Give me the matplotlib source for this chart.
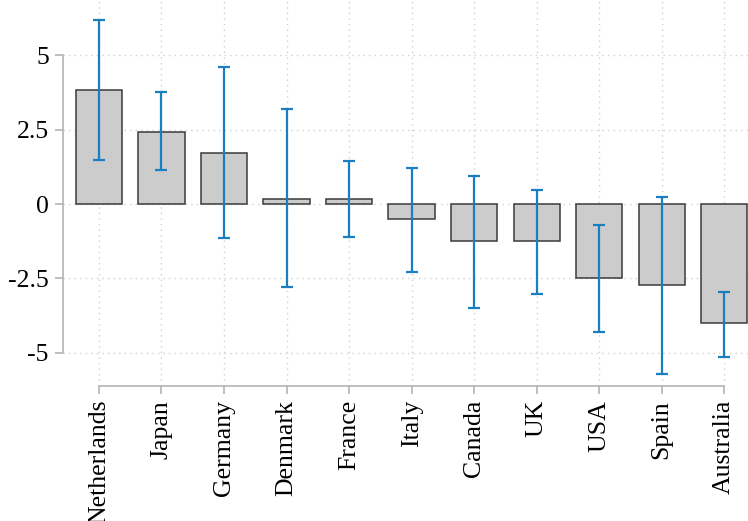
import matplotlib
matplotlib.use("Agg")
import matplotlib.pyplot as plt
import numpy as np

countries = ["Netherlands", "Japan", "Germany", "Denmark", "France", "Italy",
             "Canada", "UK", "USA", "Spain", "Australia"]
estimate = [3.82, 2.43, 1.71, 0.18, 0.16, -0.51, -1.25, -1.24, -2.48, -2.71, -4.00]
ci_low = [1.48, 1.14, -1.13, -2.80, -1.10, -2.27, -3.50, -3.02, -4.30, -5.70, -5.12]
ci_high = [6.17, 3.76, 4.60, 3.19, 1.44, 1.20, 0.95, 0.47, -0.70, 0.23, -2.95]
yticks = [-5, -2.5, 0, 2.5, 5]
ytick_labels = ["-5", "-2.5", "0", "2.5", "5"]

plt.rcParams["font.family"] = ["Liberation Serif", "DejaVu Serif"]

AXIS_GREY = "#b4b4b4"
GRID_GREY = "#d0d0d0"
BLUE = "#1a7fc1"

fig = plt.figure(figsize=(7.48, 5.21), dpi=100)
ax = fig.add_axes([62.7 / 748, (521 - 386) / 521, 1 - 62.7 / 748, 386 / 521])

x = np.arange(len(countries))
est = np.array(estimate)
yerr = np.vstack([est - np.array(ci_low), np.array(ci_high) - est])

ax.bar(x, est, width=0.74, color="#cccccc", edgecolor="#3a3a3a",
       linewidth=1.1, zorder=2)
ax.errorbar(x, est, yerr=yerr, fmt="none", ecolor=BLUE, elinewidth=1.6,
            capsize=4, capthick=1.6, zorder=3)

ax.set_xlim(-0.58, 10.38)
ax.set_ylim(-6.11, 6.85)

ax.set_yticks(yticks)
ax.set_yticklabels(ytick_labels)
ax.set_xticks(x)
ax.set_xticklabels(countries, rotation=90, va="top")

ax.grid(True, linestyle=(0, (1, 3)), color=GRID_GREY, linewidth=1.0, zorder=0)
ax.set_axisbelow(True)

for side in ["top", "right"]:
    ax.spines[side].set_visible(False)
ax.spines["left"].set_bounds(-5, 5)
ax.spines["bottom"].set_bounds(0, 10)
for side in ["left", "bottom"]:
    ax.spines[side].set_color(AXIS_GREY)
    ax.spines[side].set_linewidth(1.2)

ax.tick_params(axis="both", colors=AXIS_GREY, length=6, width=1.2,
               labelcolor="black", labelsize=18.5, pad=4)

fig.savefig("out.png", dpi=100)
